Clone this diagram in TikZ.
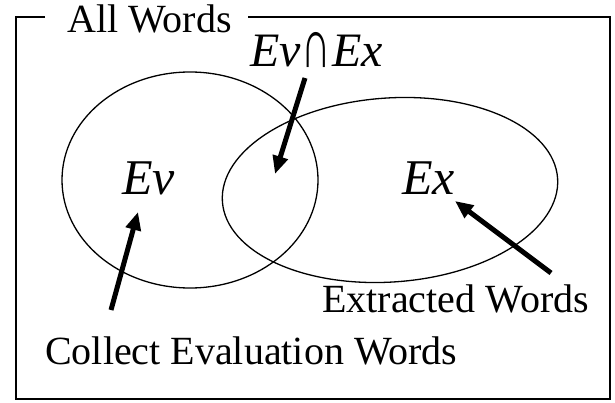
\documentclass[tikz,border=0pt]{standalone}
\usepackage{fontspec}
\setmainfont{Liberation Serif}
\usetikzlibrary{arrows.meta}
\begin{document}
\begin{tikzpicture}[x=1pt,y=-1pt,
  lbl/.style={anchor=base west,inner sep=0pt,font=\fontsize{40}{44}\selectfont},
  setlbl/.style={anchor=base west,inner sep=0pt,font=\fontsize{50}{54}\selectfont\itshape},
  frameline/.style={line width=1.6pt},
  setline/.style={line width=1.3pt},
  pointer/.style={line width=5pt,-{Triangle[length=18pt,width=15pt]}}]
\useasboundingbox (0,0) rectangle (615,403);
% frame
\draw[frameline] (45,17) -- (16,17) -- (16,399) -- (610,399) -- (610,17) -- (248,17);
\node[lbl] (all) at (67,33) {All Words};
% sets
\draw[setline] (190,180) ellipse [x radius=128, y radius=108];
\draw[setline, rotate around={4:(390,190)}] (390,190) ellipse [x radius=168, y radius=92];
% labels
\node[setlbl] (ev) at (122,195) {Ev};
\node[setlbl] (ex) at (402,195) {Ex};
\node[anchor=base west,inner sep=0pt,font=\fontsize{48}{52}\selectfont] (evex) at (250,67)
  {\textit{Ev}\kern1pt\raisebox{-0.5pt}{\scalebox{0.85}[1.45]{∩}}\kern1pt\textit{Ex}};
\node[lbl] (extr) at (322,312) {Extracted Words};
\node[lbl] (coll) at (45,364) {Collect Evaluation Words};
% pointer coordinates
\coordinate (t1) at (305,78);  \coordinate (h1) at (275,174);
\coordinate (t2) at (111,310); \coordinate (h2) at (138,212);
\coordinate (t3) at (551,273); \coordinate (h3) at (455,201);
\draw[pointer] (t1) -- (h1);
\draw[pointer] (t2) -- (h2);
\draw[pointer] (t3) -- (h3);
\end{tikzpicture}
\end{document}
